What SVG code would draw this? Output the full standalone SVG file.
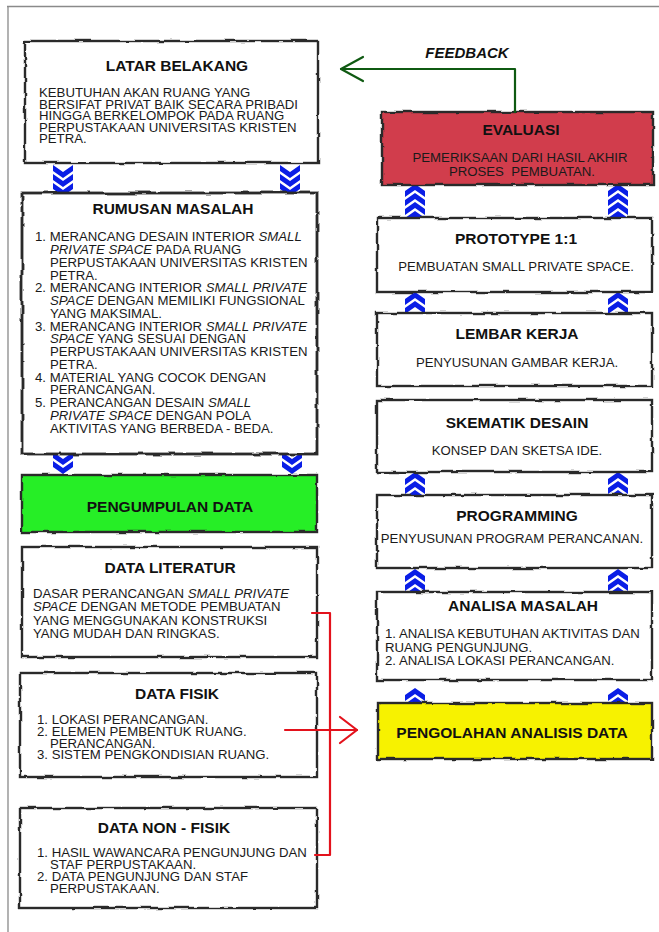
<svg xmlns="http://www.w3.org/2000/svg" width="659" height="932" viewBox="0 0 659 932">
<style>
.t{font-family:"Liberation Sans",Arial,sans-serif;font-size:15.5px;font-weight:bold;fill:#111;text-anchor:middle}
.b{font-family:"Liberation Sans",Arial,sans-serif;font-size:13.2px;fill:#1a1a1a}
.c{text-anchor:middle}
.i{font-style:italic}
.fill{stroke:none}
.edge{fill:none;stroke:#2b2b2b;stroke-width:2.4;filter:url(#rough)}
.chev{fill:#0a1ee6}
.fb{fill:none;stroke:#0f5a12;stroke-width:2.2;stroke-linecap:round;stroke-linejoin:round}
.rd{fill:none;stroke:#e3121c;stroke-width:2.2;stroke-linecap:round;stroke-linejoin:round}
.frame{stroke:#8a8a8a;stroke-width:1.3;fill:none}
</style>
<defs>
<filter id="rough" x="-5%" y="-10%" width="110%" height="120%">
<feTurbulence type="fractalNoise" baseFrequency="0.06 0.09" numOctaves="2" seed="3" result="n"/>
<feDisplacementMap in="SourceGraphic" in2="n" scale="3.5" xChannelSelector="R" yChannelSelector="G"/>
</filter>
<polygon id="cd" points="0,0 10,7 20,0 20,6 10,13 0,6"/>
<polygon id="cu" points="0,7 10,0 20,7 20,13 10,6 0,13"/>
</defs>
<rect width="659" height="932" fill="#fff"/>
<path class="frame" d="M7,6.5 H659 M8,6 V932"/>

<g id="chevrons" class="chev">
<use href="#cd" x="53" y="165"/><use href="#cd" x="53" y="174"/><use href="#cd" x="53" y="183"/>
<use href="#cd" x="280" y="165"/><use href="#cd" x="280" y="174"/><use href="#cd" x="280" y="183"/>
<use href="#cd" x="53" y="452"/><use href="#cd" x="53" y="461"/>
<use href="#cd" x="282" y="452"/><use href="#cd" x="282" y="461"/>
<use href="#cu" x="405" y="184"/><use href="#cu" x="405" y="193"/><use href="#cu" x="405" y="202"/><use href="#cu" x="405" y="211"/>
<use href="#cu" x="608" y="184"/><use href="#cu" x="608" y="193"/><use href="#cu" x="608" y="202"/><use href="#cu" x="608" y="211"/>
<use href="#cu" x="405" y="292"/><use href="#cu" x="405" y="301"/>
<use href="#cu" x="608" y="292"/><use href="#cu" x="608" y="301"/>
<use href="#cu" x="405" y="472"/><use href="#cu" x="405" y="481"/><use href="#cu" x="405" y="490"/>
<use href="#cu" x="608" y="472"/><use href="#cu" x="608" y="481"/><use href="#cu" x="608" y="490"/>
<use href="#cu" x="405" y="569"/><use href="#cu" x="405" y="578"/><use href="#cu" x="405" y="587"/>
<use href="#cu" x="608" y="569"/><use href="#cu" x="608" y="578"/><use href="#cu" x="608" y="587"/>
<use href="#cu" x="405" y="688"/><use href="#cu" x="405" y="697"/>
<use href="#cu" x="608" y="688"/><use href="#cu" x="608" y="697"/>
</g>

<g id="latar-belakang">
<rect class="fill" x="25" y="41" width="293" height="122" fill="#fff"/>
<rect class="edge" x="25" y="41" width="293" height="122"/>
<text class="t" x="177" y="70.5">LATAR BELAKANG</text>
<text class="b" x="39" y="97">KEBUTUHAN AKAN RUANG YANG</text>
<text class="b" x="39" y="108.5">BERSIFAT PRIVAT BAIK SECARA PRIBADI</text>
<text class="b" x="39" y="120">HINGGA BERKELOMPOK PADA RUANG</text>
<text class="b" x="39" y="131.5">PERPUSTAKAAN UNIVERSITAS KRISTEN</text>
<text class="b" x="39" y="143">PETRA.</text>
</g>

<g id="rumusan-masalah">
<rect class="fill" x="22" y="193" width="295" height="261" fill="#fff"/>
<rect class="edge" x="22" y="193" width="295" height="261" style="stroke-width:2.8"/>
<text class="t" x="173" y="213.5">RUMUSAN MASALAH</text>
<text class="b" x="35" y="241.4">1. MERANCANG DESAIN INTERIOR <tspan class="i">SMALL</tspan></text>
<text class="b" x="50" y="254.2"><tspan class="i">PRIVATE SPACE</tspan> PADA RUANG</text>
<text class="b" x="50" y="266.9">PERPUSTAKAAN UNIVERSITAS KRISTEN</text>
<text class="b" x="50" y="279.7">PETRA.</text>
<text class="b" x="35" y="292.4">2. MERANCANG INTERIOR <tspan class="i">SMALL PRIVATE</tspan></text>
<text class="b" x="50" y="305.2"><tspan class="i">SPACE</tspan> DENGAN MEMILIKI FUNGSIONAL</text>
<text class="b" x="50" y="317.9">YANG MAKSIMAL.</text>
<text class="b" x="35" y="330.7">3. MERANCANG INTERIOR <tspan class="i">SMALL PRIVATE</tspan></text>
<text class="b" x="50" y="343.4"><tspan class="i">SPACE</tspan> YANG SESUAI DENGAN</text>
<text class="b" x="50" y="356.2">PERPUSTAKAAN UNIVERSITAS KRISTEN</text>
<text class="b" x="50" y="368.9">PETRA.</text>
<text class="b" x="35" y="381.7">4. MATERIAL YANG COCOK DENGAN</text>
<text class="b" x="50" y="394.4">PERANCANGAN.</text>
<text class="b" x="35" y="407.2">5. PERANCANGAN DESAIN <tspan class="i">SMALL</tspan></text>
<text class="b" x="50" y="419.9"><tspan class="i">PRIVATE SPACE</tspan> DENGAN POLA</text>
<text class="b" x="50" y="432.7">AKTIVITAS YANG BERBEDA - BEDA.</text>
</g>

<g id="pengumpulan-data">
<rect class="fill" x="22" y="475" width="295" height="57" fill="#26ee26"/>
<rect class="edge" x="22" y="475" width="295" height="57"/>
<text class="t" x="170" y="511.5">PENGUMPULAN DATA</text>
</g>

<g id="data-literatur">
<rect class="fill" x="22" y="547" width="295" height="110" fill="#fff"/>
<rect class="edge" x="22" y="547" width="295" height="110"/>
<text class="t" x="170" y="572.5">DATA LITERATUR</text>
<text class="b" x="33" y="597.5">DASAR PERANCANGAN <tspan class="i">SMALL PRIVATE</tspan></text>
<text class="b" x="33" y="611"><tspan class="i">SPACE</tspan> DENGAN METODE PEMBUATAN</text>
<text class="b" x="33" y="624.5">YANG MENGGUNAKAN KONSTRUKSI</text>
<text class="b" x="33" y="638">YANG MUDAH DAN RINGKAS.</text>
</g>

<g id="data-fisik">
<rect class="fill" x="20" y="673" width="297" height="104" fill="#fff"/>
<rect class="edge" x="20" y="673" width="297" height="104"/>
<text class="t" x="177" y="698.5">DATA FISIK</text>
<text class="b" x="37" y="723.5">1. LOKASI PERANCANGAN.</text>
<text class="b" x="37" y="735.5">2. ELEMEN PEMBENTUK RUANG.</text>
<text class="b" x="50" y="747.5">PERANCANGAN.</text>
<text class="b" x="37" y="759">3. SISTEM PENGKONDISIAN RUANG.</text>
</g>

<g id="data-non-fisik">
<rect class="fill" x="20" y="808" width="297" height="100" fill="#fff"/>
<rect class="edge" x="20" y="808" width="297" height="100"/>
<text class="t" x="164" y="832.5">DATA NON - FISIK</text>
<text class="b" x="37" y="856.5">1. HASIL WAWANCARA PENGUNJUNG DAN</text>
<text class="b" x="50" y="868.5">STAF PERPUSTAKAAN.</text>
<text class="b" x="37" y="880.5">2. DATA PENGUNJUNG DAN STAF</text>
<text class="b" x="50" y="892.5">PERPUSTAKAAN.</text>
</g>

<g id="evaluasi">
<rect class="fill" x="382" y="112" width="271" height="73" fill="#d13d4c"/>
<rect class="edge" x="382" y="112" width="271" height="73"/>
<text class="t" x="521" y="134.5">EVALUASI</text>
<text class="b c" x="520" y="161.5">PEMERIKSAAN DARI HASIL AKHIR</text>
<text class="b c" x="522" y="175.5" style="white-space:pre">PROSES  PEMBUATAN.</text>
</g>

<g id="prototype">
<rect class="fill" x="377" y="218" width="275" height="74" fill="#fff"/>
<rect class="edge" x="377" y="218" width="275" height="74"/>
<text class="t" x="516" y="243.5">PROTOTYPE 1:1</text>
<text class="b c" x="516" y="270.5">PEMBUATAN SMALL PRIVATE SPACE.</text>
</g>

<g id="lembar-kerja">
<rect class="fill" x="377" y="313" width="275" height="73" fill="#fff"/>
<rect class="edge" x="377" y="313" width="275" height="73"/>
<text class="t" x="517" y="338.5">LEMBAR KERJA</text>
<text class="b c" x="517" y="366.5">PENYUSUNAN GAMBAR KERJA.</text>
</g>

<g id="skematik-desain">
<rect class="fill" x="377" y="400" width="275" height="72" fill="#fff"/>
<rect class="edge" x="377" y="400" width="275" height="72"/>
<text class="t" x="517" y="427.5">SKEMATIK DESAIN</text>
<text class="b c" x="517" y="454.5">KONSEP DAN SKETSA IDE.</text>
</g>

<g id="programming">
<rect class="fill" x="377" y="495" width="275" height="73" fill="#fff"/>
<rect class="edge" x="377" y="495" width="275" height="73"/>
<text class="t" x="517" y="520.5">PROGRAMMING</text>
<text class="b c" x="512" y="542.5">PENYUSUNAN PROGRAM PERANCANAN.</text>
</g>

<g id="analisa-masalah">
<rect class="fill" x="377" y="592" width="275" height="88" fill="#fff"/>
<rect class="edge" x="377" y="592" width="275" height="88"/>
<text class="t" x="523" y="611">ANALISA MASALAH</text>
<text class="b" x="385" y="637.5">1. ANALISA KEBUTUHAN AKTIVITAS DAN</text>
<text class="b" x="385" y="651.5">RUANG PENGUNJUNG.</text>
<text class="b" x="385" y="664.5">2. ANALISA LOKASI PERANCANGAN.</text>
</g>

<g id="pengolahan-analisis-data">
<rect class="fill" x="378" y="703" width="274" height="56" fill="#f7f200"/>
<rect class="edge" x="378" y="703" width="274" height="56"/>
<text class="t" x="512" y="737.5">PENGOLAHAN ANALISIS DATA</text>
</g>

<g id="connectors">
<path class="fb" d="M515,112 V69 H341"/>
<polyline class="fb" points="363,57 341,69 363,81"/>
<text class="t" x="467" y="57.5" style="font-style:italic;font-size:15px">FEEDBACK</text>
<path class="rd" d="M312,613 H330 V855 H315"/>
<path class="rd" d="M285,730 H357"/>
<polyline class="rd" points="340,717 357,730 340,743"/>
</g>
</svg>
